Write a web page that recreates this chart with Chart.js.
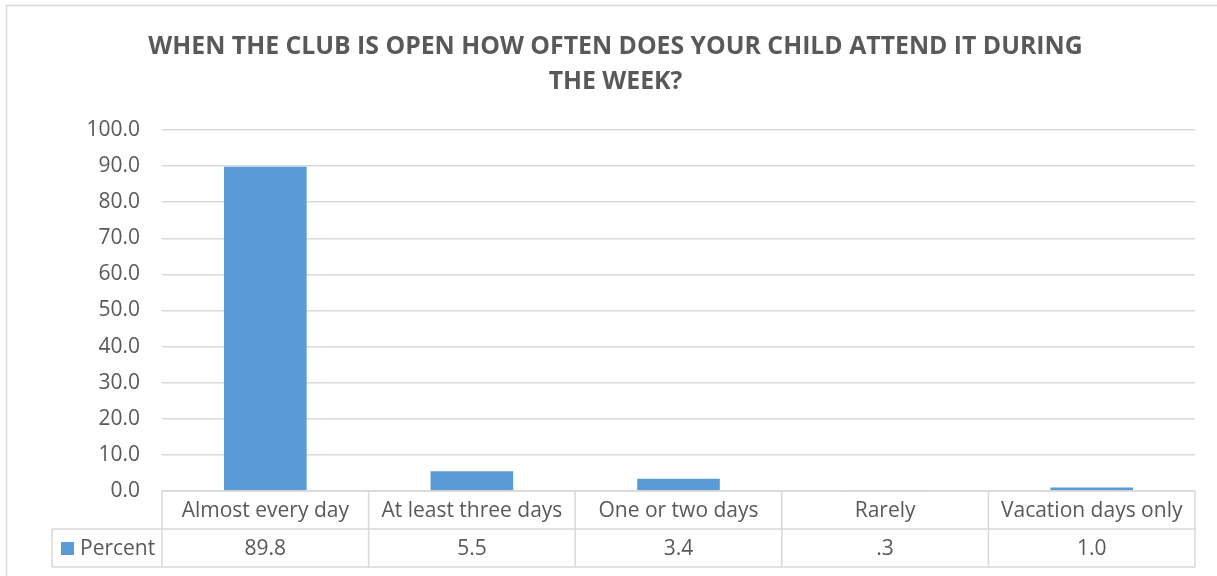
<!DOCTYPE html>
<html>
<head>
<meta charset="utf-8">
<script src="https://cdn.jsdelivr.net/npm/chart.js@4"></script>
<style>
  body { margin: 0; background: #fff; }
  canvas { display: block; }
</style>
</head>
<body>
<canvas id="chart" width="1217" height="576"></canvas>
<script>
const categories = ['Almost every day', 'At least three days', 'One or two days', 'Rarely', 'Vacation days only'];
const percentValues = [89.8, 5.5, 3.4, 0.3, 1.0];
const seriesName = 'Percent';
const titleLines = ['WHEN THE CLUB IS OPEN HOW OFTEN DOES YOUR CHILD ATTEND IT DURING', 'THE WEEK?'];

const textColor = '#595959';
const lineColor = '#d9d9d9';
const barColor = '#5b9bd5';
const fontFamily = "'Open Sans', 'Noto Sans', sans-serif";

// excel style: 89.8 -> "89.8", 0.3 -> ".3"
function fmtValue(v) {
    let s = v.toFixed(1);
    if (s.startsWith('0.')) s = s.slice(1);
    return s;
}

// draws the outer frame and the data table under the plot
const dataTablePlugin = {
    id: 'dataTable',
    beforeDraw(chart) {
        const ctx = chart.ctx;
        ctx.save();
        ctx.strokeStyle = lineColor;
        ctx.lineWidth = 1.5;
        ctx.beginPath();
        ctx.moveTo(6.5, 576);
        ctx.lineTo(6.5, 5.5);
        ctx.lineTo(1217, 5.5);
        ctx.stroke();
        ctx.restore();
    },
    afterDraw(chart) {
        const ctx = chart.ctx;
        const xs = chart.scales.x;
        const area = chart.chartArea;
        const rowH = 38;
        const half = (area.right - area.left) / categories.length / 2;
        const y0 = area.bottom;
        const y1 = y0 + rowH;
        const y2 = y1 + rowH;
        const legendLeft = 52;

        ctx.save();
        ctx.strokeStyle = lineColor;
        ctx.lineWidth = 1.5;
        ctx.beginPath();
        ctx.moveTo(area.left, y0); ctx.lineTo(area.right, y0);
        ctx.moveTo(legendLeft, y1); ctx.lineTo(area.right, y1);
        ctx.moveTo(legendLeft, y2); ctx.lineTo(area.right, y2);
        ctx.moveTo(legendLeft, y1); ctx.lineTo(legendLeft, y2);
        categories.forEach((c, i) => {
            const cx = xs.getPixelForValue(i);
            ctx.moveTo(cx - half, y0); ctx.lineTo(cx - half, y2);
        });
        ctx.moveTo(area.right, y0); ctx.lineTo(area.right, y2);
        ctx.stroke();

        ctx.fillStyle = textColor;
        ctx.font = '21px ' + fontFamily;
        ctx.textAlign = 'center';
        ctx.textBaseline = 'middle';
        categories.forEach((c, i) => {
            const cx = xs.getPixelForValue(i);
            ctx.fillText(c, cx, y0 + rowH / 2 + 1);
            ctx.fillText(fmtValue(percentValues[i]), cx, y1 + rowH / 2 + 1);
        });

        // legend key
        ctx.fillStyle = barColor;
        ctx.fillRect(61, y1 + 13, 13, 13);
        ctx.fillStyle = textColor;
        ctx.textAlign = 'left';
        ctx.fillText(seriesName, 80, y1 + rowH / 2 + 1);
        ctx.restore();
    }
};

new Chart(document.getElementById('chart'), {
    type: 'bar',
    data: {
        labels: categories,
        datasets: [{
            label: seriesName,
            data: percentValues,
            backgroundColor: barColor,
            barPercentage: 0.4,
            categoryPercentage: 1.0
        }]
    },
    options: {
        responsive: false,
        animation: false,
        // title is centred a bit right of the plot, so more padding on the left
        layout: { padding: { left: 14, right: 0, top: 0, bottom: 0 } },
        plugins: {
            legend: { display: false },
            tooltip: { enabled: false },
            title: {
                display: true,
                text: titleLines,
                color: textColor,
                font: { family: fontFamily, size: 24.8, weight: 'bold', lineHeight: '35px' },
                padding: { top: 29, bottom: 31 }
            }
        },
        scales: {
            x: {
                ticks: { display: false },
                grid: { display: false },
                border: { display: false },
                afterFit(scale) { scale.height = 85; }
            },
            y: {
                min: 0,
                max: 100,
                ticks: {
                    stepSize: 10,
                    color: textColor,
                    padding: 22,
                    font: { family: fontFamily, size: 21 },
                    callback: v => v.toFixed(1)
                },
                grid: { color: lineColor, lineWidth: 1.5, drawTicks: false },
                border: { display: false },
                afterFit(scale) { scale.width = 148; }
            },
            // empty axis, only keeps a gap on the right of the plot
            yRight: {
                position: 'right',
                ticks: { display: false },
                grid: { display: false },
                border: { display: false },
                afterFit(scale) { scale.width = 22; }
            }
        }
    },
    plugins: [dataTablePlugin]
});
</script>
</body>
</html>
